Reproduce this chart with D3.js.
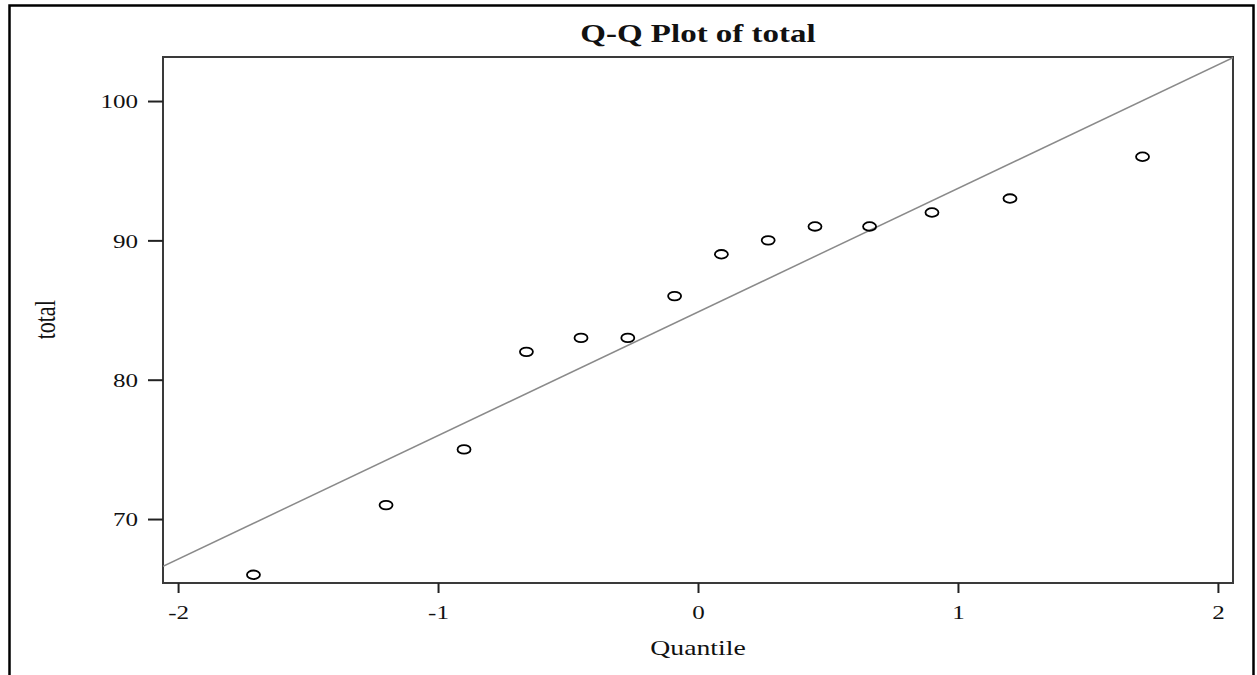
<!DOCTYPE html>
<html lang="en">
<head>
<meta charset="UTF-8">
<title>Q-Q Plot of total</title>
<script src="https://d3js.org/d3.v7.min.js"></script>
<style>
  body { margin: 0; background: #fff; }
  text { font-family: "Liberation Serif", "Times New Roman", serif; fill: #111; }
</style>
</head>
<body>
<div id="chart"></div>
<script>
// data
var quantiles = [-1.71, -1.20, -0.90, -0.66, -0.45, -0.27, -0.09, 0.09, 0.27, 0.45, 0.66, 0.90, 1.20, 1.71];
var totals    = [66, 71, 75, 82, 83, 83, 86, 89, 90, 91, 91, 92, 93, 96];
var xTicks = [-2, -1, 0, 1, 2];
var yTicks = [70, 80, 90, 100];
// reference line (mean, std)
var lineIntercept = 84.86;
var lineSlope = 8.87;

var W = 1257, H = 675;
var margin = {top: 57, right: 24, bottom: 92, left: 163};
var stretch = 1.32; // the source is a bit wide

var svg = d3.select("#chart").append("svg")
  .attr("width", W).attr("height", H);

// outer frame (open at the bottom)
svg.append("path")
  .attr("d", "M9.5,676 V5.5 H1253.5 V676")
  .attr("fill", "none").attr("stroke", "#000").attr("stroke-width", 2.5);

var x = d3.scaleLinear().domain([-2.058, 2.058]).range([margin.left, W - margin.right]);
var y = d3.scaleLinear().domain([65.41, 103.16]).range([H - margin.bottom, margin.top]);

// plot frame
svg.append("rect")
  .attr("x", margin.left).attr("y", margin.top)
  .attr("width", W - margin.right - margin.left)
  .attr("height", H - margin.bottom - margin.top)
  .attr("fill", "none").attr("stroke", "#3a3a3a").attr("stroke-width", 2);

// clip for the line
svg.append("clipPath").attr("id", "clip").append("rect")
  .attr("x", margin.left).attr("y", margin.top)
  .attr("width", W - margin.right - margin.left)
  .attr("height", H - margin.bottom - margin.top);

// x axis
var gx = svg.append("g")
  .attr("transform", "translate(0," + (H - margin.bottom) + ")")
  .call(d3.axisBottom(x).tickValues(xTicks).tickSize(10).tickFormat(function(d) { return String(d); }));
gx.select(".domain").remove();
gx.selectAll(".tick line").attr("stroke", "#222").attr("stroke-width", 2);
gx.selectAll(".tick text")
  .attr("y", 0).attr("dy", null)
  .attr("transform", "translate(0,36) scale(" + stretch + ",1)")
  .style("font-size", "19px");

// y axis
var gy = svg.append("g")
  .attr("transform", "translate(" + margin.left + ",0)")
  .call(d3.axisLeft(y).tickValues(yTicks).tickSize(15));
gy.select(".domain").remove();
gy.selectAll(".tick line").attr("stroke", "#222").attr("stroke-width", 2);
gy.selectAll(".tick text")
  .attr("x", 0).attr("dy", "0.35em")
  .attr("transform", "translate(-25,0) scale(" + stretch + ",1)")
  .style("font-size", "19px");

// reference line
svg.append("line")
  .attr("clip-path", "url(#clip)")
  .attr("x1", x(-2.058)).attr("y1", y(lineIntercept + lineSlope * -2.058))
  .attr("x2", x(2.058)).attr("y2", y(lineIntercept + lineSlope * 2.058))
  .attr("stroke", "#8a8a8a").attr("stroke-width", 1.5);

// points
svg.selectAll(".pt").data(quantiles).enter().append("ellipse")
  .attr("class", "pt")
  .attr("cx", function(d) { return x(d); })
  .attr("cy", function(d, i) { return y(totals[i]); })
  .attr("rx", 6.5).attr("ry", 4.3)
  .attr("fill", "none").attr("stroke", "#000").attr("stroke-width", 1.8);

// title
svg.append("text")
  .attr("transform", "translate(" + x(0) + ",42) scale(" + stretch + ",1)")
  .attr("text-anchor", "middle")
  .style("font-size", "25px").style("font-weight", "bold")
  .text("Q-Q Plot of total");

// axis labels
svg.append("text")
  .attr("transform", "translate(" + x(0) + ",655) scale(" + stretch + ",1)")
  .attr("text-anchor", "middle")
  .style("font-size", "21px")
  .text("Quantile");

svg.append("text")
  .attr("transform", "translate(55," + y(84.3) + ") scale(" + stretch + ",1) rotate(-90)")
  .attr("text-anchor", "middle")
  .style("font-size", "22px")
  .text("total");
</script>
</body>
</html>
